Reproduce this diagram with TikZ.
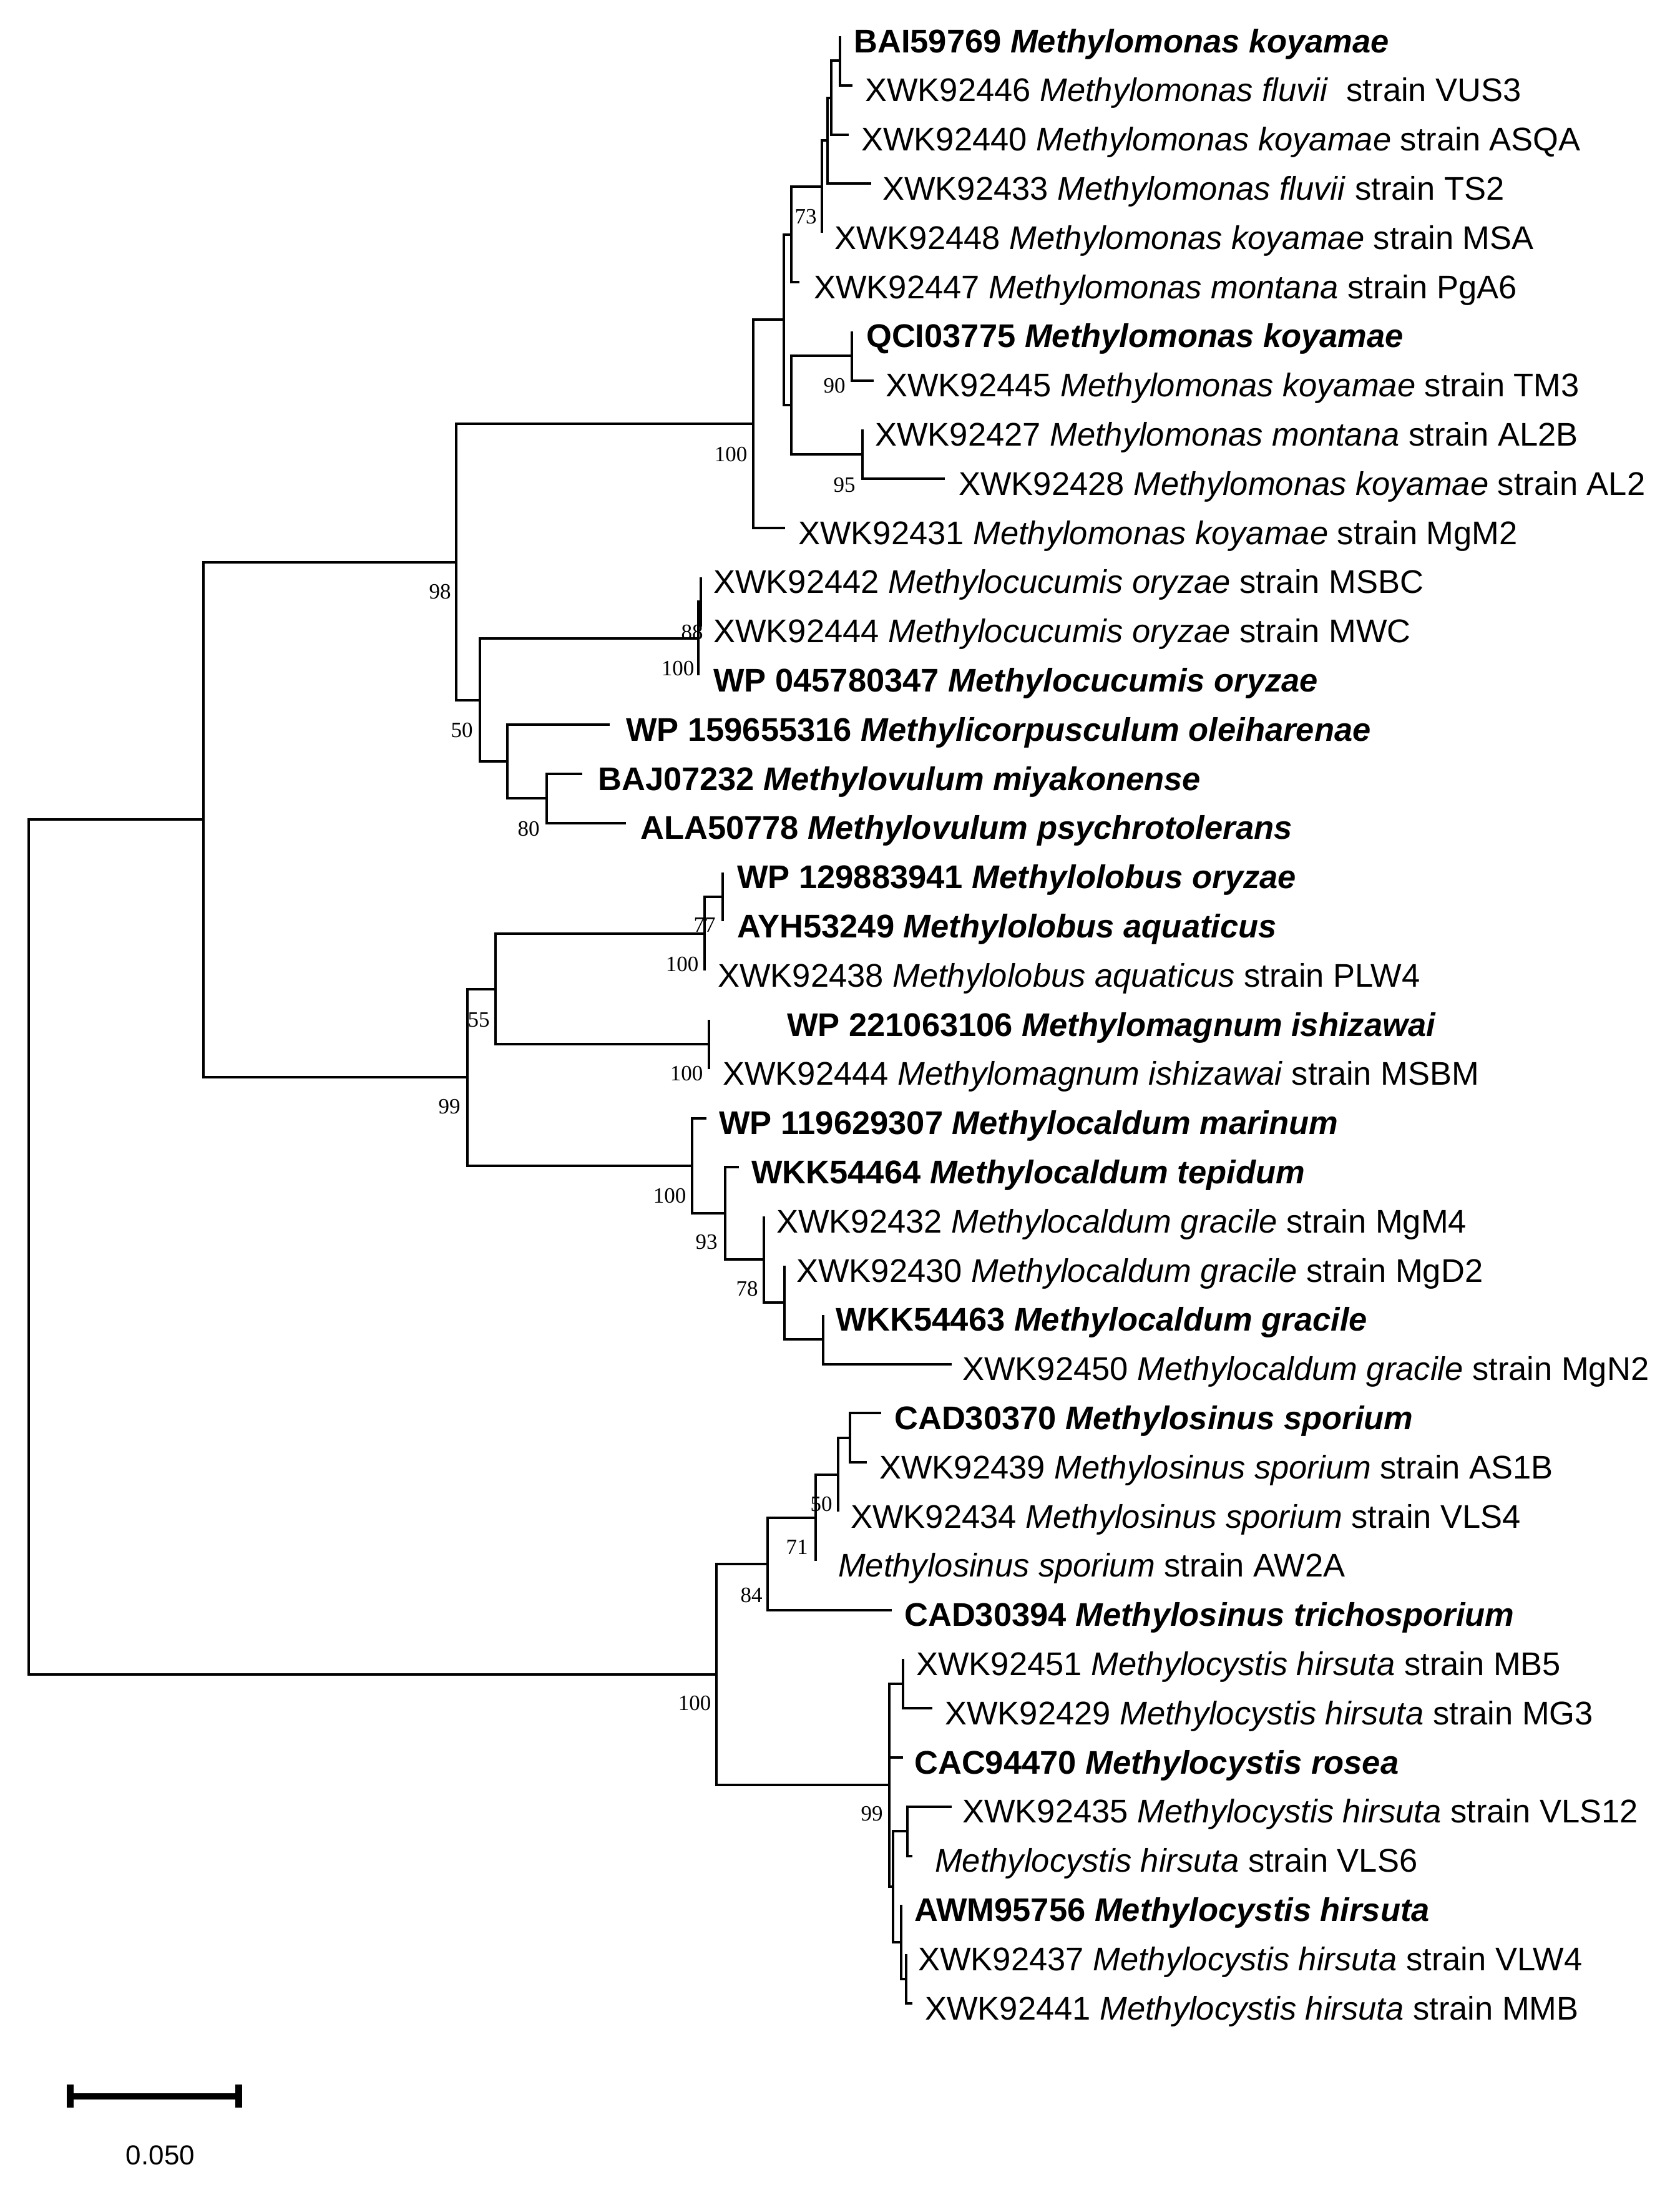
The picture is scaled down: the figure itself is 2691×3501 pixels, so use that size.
\documentclass[tikz,border=0pt]{standalone}
\usepackage{fontspec}
\setmainfont{Liberation Sans}
\newfontfamily\bsfont{Liberation Serif}
\newcommand\plainleaf[3]{#1 \textit{#2} strain #3}
\newcommand\boldleaf[2]{{\bfseries #1 \textit{#2}}}
\begin{document}
\begin{tikzpicture}[x=1pt,y=-1pt,
  br/.style={line width=4pt},
  leaf/.style={anchor=base west, inner sep=0pt, font=\fontsize{52.5}{60}\selectfont},
  boot/.style={inner sep=0pt, font=\bsfont\fontsize{35}{40}\selectfont},
  scalebar/.style={line width=10pt},
  scaletick/.style={line width=11pt}]
\useasboundingbox (0,0) rectangle (2691,3501);

% ---------- leaves: tip coordinate and label ----------
\newcommand\leafrow[4]{%
  \coordinate (l#1) at (#2,{58+(#1-1)*78.8});
  \node[leaf] (t#1) at (#3,{84+(#1-1)*78.8}) {#4};}
\leafrow{1}{1346}{1368}{\boldleaf{BAI59769}{Methylomonas koyamae}}
\leafrow{2}{1366}{1386}{XWK92446 \textit{Methylomonas fluvii}\ \ strain VUS3}
\leafrow{3}{1360}{1380}{\plainleaf{XWK92440}{Methylomonas koyamae}{ASQA}}
\leafrow{4}{1396}{1414}{\plainleaf{XWK92433}{Methylomonas fluvii}{TS2}}
\leafrow{5}{1317}{1337}{\plainleaf{XWK92448}{Methylomonas koyamae}{MSA}}
\leafrow{6}{1281}{1304}{\plainleaf{XWK92447}{Methylomonas montana}{PgA6}}
\leafrow{7}{1365}{1388}{\boldleaf{QCI03775}{Methylomonas koyamae}}
\leafrow{8}{1400}{1419}{\plainleaf{XWK92445}{Methylomonas koyamae}{TM3}}
\leafrow{9}{1382}{1402}{\plainleaf{XWK92427}{Methylomonas montana}{AL2B}}
\leafrow{10}{1514}{1536}{\plainleaf{XWK92428}{Methylomonas koyamae}{AL2}}
\leafrow{11}{1258}{1279}{\plainleaf{XWK92431}{Methylomonas koyamae}{MgM2}}
\leafrow{12}{1123}{1143}{\plainleaf{XWK92442}{Methylocucumis oryzae}{MSBC}}
\leafrow{13}{1123}{1143}{\plainleaf{XWK92444}{Methylocucumis oryzae}{MWC}}
\leafrow{14}{1119}{1143}{\boldleaf{WP 045780347}{Methylocucumis oryzae}}
\leafrow{15}{977}{1003}{\boldleaf{WP 159655316}{Methylicorpusculum oleiharenae}}
\leafrow{16}{933}{958}{\boldleaf{BAJ07232}{Methylovulum miyakonense}}
\leafrow{17}{1003}{1026}{\boldleaf{ALA50778}{Methylovulum psychrotolerans}}
\leafrow{18}{1158}{1181}{\boldleaf{WP 129883941}{Methylolobus oryzae}}
\leafrow{19}{1158}{1181}{\boldleaf{AYH53249}{Methylolobus aquaticus}}
\leafrow{20}{1129}{1150}{\plainleaf{XWK92438}{Methylolobus aquaticus}{PLW4}}
\leafrow{21}{1136}{1261}{\boldleaf{WP 221063106}{Methylomagnum ishizawai}}
\leafrow{22}{1136}{1158}{\plainleaf{XWK92444}{Methylomagnum ishizawai}{MSBM}}
\leafrow{23}{1132}{1152}{\boldleaf{WP 119629307}{Methylocaldum marinum}}
\leafrow{24}{1184}{1204}{\boldleaf{WKK54464}{Methylocaldum tepidum}}
\leafrow{25}{1224}{1244}{\plainleaf{XWK92432}{Methylocaldum gracile}{MgM4}}
\leafrow{26}{1257}{1276}{\plainleaf{XWK92430}{Methylocaldum gracile}{MgD2}}
\leafrow{27}{1319}{1339}{\boldleaf{WKK54463}{Methylocaldum gracile}}
\leafrow{28}{1525}{1542}{\plainleaf{XWK92450}{Methylocaldum gracile}{MgN2}}
\leafrow{29}{1412}{1433}{\boldleaf{CAD30370}{Methylosinus sporium}}
\leafrow{30}{1389}{1409}{\plainleaf{XWK92439}{Methylosinus sporium}{AS1B}}
\leafrow{31}{1343}{1363}{\plainleaf{XWK92434}{Methylosinus sporium}{VLS4}}
\leafrow{32}{1307}{1343}{\textit{Methylosinus sporium} strain AW2A}
\leafrow{33}{1429}{1449}{\boldleaf{CAD30394}{Methylosinus trichosporium}}
\leafrow{34}{1447}{1468}{\plainleaf{XWK92451}{Methylocystis hirsuta}{MB5}}
\leafrow{35}{1494}{1514}{\plainleaf{XWK92429}{Methylocystis hirsuta}{MG3}}
\leafrow{36}{1447}{1465}{\boldleaf{CAC94470}{Methylocystis rosea}}
\leafrow{37}{1525}{1542}{\plainleaf{XWK92435}{Methylocystis hirsuta}{VLS12}}
\leafrow{38}{1462}{1498}{\textit{Methylocystis hirsuta} strain VLS6}
\leafrow{39}{1444}{1465}{\boldleaf{AWM95756}{Methylocystis hirsuta}}
\leafrow{40}{1452}{1471}{\plainleaf{XWK92437}{Methylocystis hirsuta}{VLW4}}
\leafrow{41}{1462}{1482}{\plainleaf{XWK92441}{Methylocystis hirsuta}{MMB}}

% ---------- internal nodes ----------
\coordinate (Root) at (46,1998.2);
\coordinate (A) at (326,1313.4);
\coordinate (B) at (731,900.5);
\coordinate (M0) at (1207,679.2);
\coordinate (M1) at (1256,512.3);
\coordinate (M2) at (1268,375.7);
\coordinate (M3) at (1317,299.3);
\coordinate (M4) at (1326,225.45);
\coordinate (M5) at (1332,156.5);
\coordinate (M6) at (1346,97.4);
\coordinate (M7) at (1268,649);
\coordinate (M8) at (1365,570.2);
\coordinate (M9) at (1382,727.8);
\coordinate (C) at (769,1121.8);
\coordinate (K1) at (1119,1023.3);
\coordinate (K2) at (1123,964.2);
\coordinate (D) at (813,1220.3);
\coordinate (E) at (876,1279.4);
\coordinate (F) at (749,1726.3);
\coordinate (G) at (794,1584.75);
\coordinate (L1) at (1129,1496.1);
\coordinate (L2) at (1158,1437);
\coordinate (Mag) at (1136,1673.4);
\coordinate (Cal) at (1109,1867.9);
\coordinate (N93) at (1162,1944.3);
\coordinate (N78) at (1224,2018.15);
\coordinate (NN) at (1257,2087.1);
\coordinate (PP) at (1319,2146.2);
\coordinate (H) at (1148,2683);
\coordinate (S4) at (1230,2505.7);
\coordinate (S3) at (1307,2431.85);
\coordinate (S2) at (1343,2362.9);
\coordinate (S1) at (1362,2303.8);
\coordinate (Q) at (1425,2860.3);
\coordinate (R1) at (1447,2697.8);
\coordinate (T) at (1431,3022.85);
\coordinate (U) at (1454,2934.2);
\coordinate (V) at (1444,3111.5);
\coordinate (W) at (1452,3170.6);

% ---------- branches ----------
\draw[br] (Root) |- (A);  \draw[br] (Root) |- (H);
\draw[br] (A) |- (B);     \draw[br] (A) |- (F);
\draw[br] (B) |- (M0);    \draw[br] (B) |- (C);
\draw[br] (M0) |- (M1);   \draw[br] (M0) |- (l11);
\draw[br] (M1) |- (M2);   \draw[br] (M1) |- (M7);
\draw[br] (M2) |- (M3);   \draw[br] (M2) |- (l6);
\draw[br] (M3) |- (M4);   \draw[br] (M3) |- (l5);
\draw[br] (M4) |- (M5);   \draw[br] (M4) |- (l4);
\draw[br] (M5) |- (M6);   \draw[br] (M5) |- (l3);
\draw[br] (M6) |- (l1);   \draw[br] (M6) |- (l2);
\draw[br] (M7) |- (M8);   \draw[br] (M7) |- (M9);
\draw[br] (M8) |- (l7);   \draw[br] (M8) |- (l8);
\draw[br] (M9) |- (l9);   \draw[br] (M9) |- (l10);
\draw[br] (C) |- (K1);    \draw[br] (C) |- (D);
\draw[br] (K1) |- (K2);   \draw[br] (K1) |- (l14);
\draw[br] (K2) |- (l12);  \draw[br] (K2) |- (l13);
\draw[br] (D) |- (l15);   \draw[br] (D) |- (E);
\draw[br] (E) |- (l16);   \draw[br] (E) |- (l17);
\draw[br] (F) |- (G);     \draw[br] (F) |- (Cal);
\draw[br] (G) |- (L1);    \draw[br] (G) |- (Mag);
\draw[br] (L1) |- (L2);   \draw[br] (L1) |- (l20);
\draw[br] (L2) |- (l18);  \draw[br] (L2) |- (l19);
\draw[br] (Mag) |- (l21); \draw[br] (Mag) |- (l22);
\draw[br] (Cal) |- (l23); \draw[br] (Cal) |- (N93);
\draw[br] (N93) |- (l24); \draw[br] (N93) |- (N78);
\draw[br] (N78) |- (l25); \draw[br] (N78) |- (NN);
\draw[br] (NN) |- (l26);  \draw[br] (NN) |- (PP);
\draw[br] (PP) |- (l27);  \draw[br] (PP) |- (l28);
\draw[br] (H) |- (S4);    \draw[br] (H) |- (Q);
\draw[br] (S4) |- (S3);   \draw[br] (S4) |- (l33);
\draw[br] (S3) |- (S2);   \draw[br] (S3) |- (l32);
\draw[br] (S2) |- (S1);   \draw[br] (S2) |- (l31);
\draw[br] (S1) |- (l29);  \draw[br] (S1) |- (l30);
\draw[br] (Q) |- (R1);    \draw[br] (Q) |- (l36);   \draw[br] (Q) |- (T);
\draw[br] (R1) |- (l34);  \draw[br] (R1) |- (l35);
\draw[br] (T) |- (U);     \draw[br] (T) |- (V);
\draw[br] (U) |- (l37);   \draw[br] (U) |- (l38);
\draw[br] (V) |- (l39);   \draw[br] (V) |- (W);
\draw[br] (W) |- (l40);   \draw[br] (W) |- (l41);

% ---------- bootstrap values ----------
\node[boot] (b73)  at (1291,347)  {73};
\node[boot] (bM0)  at (1171,728)  {100};
\node[boot] (b90)  at (1337,618)  {90};
\node[boot] (b95)  at (1353,777)  {95};
\node[boot] (b98)  at (705,948)   {98};
\node[boot] (b88)  at (1109,1013) {88};
\node[boot] (bK1)  at (1086,1071) {100};
\node[boot] (b50a) at (740,1170)  {50};
\node[boot] (b80)  at (847,1328)  {80};
\node[boot] (b77)  at (1129,1482) {77};
\node[boot] (bL1)  at (1093,1545) {100};
\node[boot] (bMag) at (1100,1720) {100};
\node[boot] (b55)  at (767,1634)  {55};
\node[boot] (b99a) at (720,1773)  {99};
\node[boot] (bCal) at (1073,1916) {100};
\node[boot] (b93)  at (1132,1990) {93};
\node[boot] (b78)  at (1197,2065) {78};
\node[boot] (b50b) at (1316,2410) {50};
\node[boot] (b71)  at (1277,2479) {71};
\node[boot] (b84)  at (1204,2556) {84};
\node[boot] (bH)   at (1113,2729) {100};
\node[boot] (b99b) at (1397,2906) {99};

% ---------- scale bar ----------
\coordinate (sbL) at (107,3358.5);
\coordinate (sbR) at (387,3358.5);
\coordinate (tkLa) at (112,3340);
\coordinate (tkLb) at (112,3377);
\coordinate (tkRa) at (382,3340);
\coordinate (tkRb) at (382,3377);
\draw[scalebar] (sbL) -- (sbR);
\draw[scaletick] (tkLa) -- (tkLb);
\draw[scaletick] (tkRa) -- (tkRb);
\node[anchor=base, inner sep=0pt, font=\fontsize{44}{50}\selectfont] (sblabel) at (257,3468) {0.050};
\end{tikzpicture}
\end{document}
